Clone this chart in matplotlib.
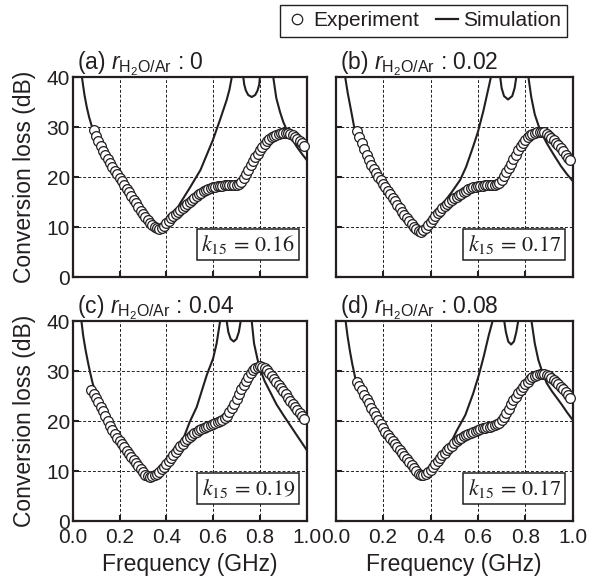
import numpy as np
import matplotlib
matplotlib.use("Agg")
import matplotlib.pyplot as plt
from matplotlib.lines import Line2D

plt.rcParams['font.family'] = ['Liberation Sans', 'DejaVu Sans']
plt.rcParams['mathtext.fontset'] = 'custom'
plt.rcParams['mathtext.rm'] = 'Liberation Sans'
plt.rcParams['mathtext.it'] = 'Liberation Sans:italic'

ink = '#231f20'

# measured conversion loss (dB), 0.01 GHz steps
freq_abd = np.round(np.arange(0.09, 0.995, 0.01), 2)
freq_c = np.round(np.arange(0.08, 0.995, 0.01), 2)

exp_a = [29.5, 28.3, 27.2, 26.2, 25.3, 24.4, 23.6, 22.8, 22.0, 21.3,
         20.6, 19.9, 19.2, 18.4, 17.7, 17.0, 16.2, 15.5, 14.8, 14.0,
         13.3, 12.6, 12.0, 11.4, 10.9, 10.4, 10.0, 9.8, 9.7, 9.9,
         10.3, 10.8, 11.3, 11.8, 12.3, 12.7, 13.1, 13.5, 13.9, 14.3,
         14.7, 15.1, 15.5, 15.9, 16.3, 16.6, 16.9, 17.2, 17.5, 17.7,
         17.9, 18.0, 18.1, 18.2, 18.3, 18.3, 18.4, 18.4, 18.4, 18.4,
         18.5, 18.5, 18.7, 19.1, 19.8, 20.6, 21.5, 22.4, 23.2, 24.0,
         24.7, 25.4, 26.1, 26.7, 27.2, 27.6, 28.0, 28.3, 28.5, 28.7,
         28.8, 28.9, 28.9, 28.8, 28.6, 28.4, 28.1, 27.7, 27.3, 26.8,
         26.3]

exp_b = [29.3, 28.0, 26.8, 25.6, 24.5, 23.4, 22.4, 21.6, 20.8, 20.1,
         19.4, 18.7, 18.0, 17.3, 16.6, 15.9, 15.2, 14.5, 13.8, 13.1,
         12.5, 11.9, 11.3, 10.7, 10.1, 9.6, 9.2, 9.1, 9.4, 9.9,
         10.5, 11.1, 11.7, 12.3, 12.8, 13.3, 13.8, 14.2, 14.6, 15.0,
         15.4, 15.8, 16.1, 16.4, 16.7, 17.0, 17.3, 17.6, 17.8, 18.0,
         18.1, 18.2, 18.3, 18.3, 18.4, 18.4, 18.4, 18.5, 18.5, 18.6,
         18.9, 19.4, 20.2, 21.0, 21.8, 22.7, 23.6, 24.5, 25.4, 26.2,
         26.9, 27.5, 28.0, 28.4, 28.7, 28.9, 29.1, 29.1, 29.1, 29.0,
         28.7, 28.3, 27.9, 27.4, 26.9, 26.4, 25.8, 25.2, 24.5, 23.9,
         23.4]

exp_c = [26.3, 25.5, 24.6, 23.8, 22.9, 22.0, 21.0, 20.0, 19.1, 18.3,
         17.5, 16.7, 16.0, 15.4, 14.8, 14.1, 13.5, 12.9, 12.3, 11.7,
         11.0, 10.4, 9.8, 9.3, 9.0, 8.9, 9.0, 9.2, 9.5, 9.9,
         10.4, 10.9, 11.5, 12.1, 12.7, 13.3, 13.9, 14.5, 15.0, 15.5,
         16.0, 16.4, 16.9, 17.3, 17.6, 17.9, 18.2, 18.4, 18.6, 18.8,
         19.0, 19.2, 19.4, 19.6, 19.8, 20.0, 20.3, 20.6, 21.1, 21.8,
         22.6, 23.5, 24.5, 25.5, 26.4, 27.3, 28.1, 28.9, 29.6, 30.2,
         30.6, 30.9, 31.0, 30.9, 30.6, 30.2, 29.7, 29.1, 28.5, 27.9,
         27.3, 26.7, 26.1, 25.4, 24.7, 24.1, 23.5, 22.9, 22.3, 21.7,
         21.1, 20.5]

exp_d = [27.9, 27.0, 26.2, 25.3, 24.4, 23.6, 22.7, 21.8, 21.0, 20.2,
         19.4, 18.7, 17.9, 17.3, 16.7, 16.1, 15.5, 14.9, 14.3, 13.7,
         13.1, 12.5, 11.9, 11.3, 10.6, 10.0, 9.5, 9.2, 9.2, 9.4,
         9.8, 10.2, 10.8, 11.4, 12.0, 12.6, 13.2, 13.7, 14.2, 14.7,
         15.1, 15.6, 16.0, 16.4, 16.7, 17.0, 17.3, 17.5, 17.7, 17.9,
         18.1, 18.3, 18.4, 18.6, 18.7, 18.8, 18.9, 19.0, 19.2, 19.4,
         19.7, 20.2, 20.8, 21.6, 22.5, 23.4, 24.2, 24.9, 25.6, 26.2,
         26.8, 27.4, 27.9, 28.4, 28.8, 29.1, 29.3, 29.4, 29.5, 29.4,
         29.2, 29.0, 28.6, 28.2, 27.8, 27.4, 26.9, 26.4, 25.8, 25.2,
         24.7]

# simulated curves (values above 40 run off the top of the axes)
sim_a_f = [0.038, 0.04, 0.05, 0.06, 0.07, 0.08, 0.09, 0.10, 0.12, 0.15, 0.20, 0.25,
           0.30, 0.34, 0.37, 0.40, 0.43, 0.46, 0.50, 0.546, 0.60, 0.63, 0.658, 0.67,
           0.68, 0.69, 0.70, 0.72, 0.727, 0.729, 0.733, 0.74, 0.75, 0.765, 0.78, 0.79,
           0.797, 0.80, 0.805, 0.82, 0.84, 0.85, 0.857, 0.87, 0.886, 0.90, 0.915, 0.93,
           0.957, 0.98, 1.0]
sim_a = [40.5, 39.8, 36.5, 34.0, 32.0, 30.4, 29.2, 28.0, 25.8, 23.2, 19.3, 15.6,
         12.3, 10.3, 9.8, 10.6, 12.3, 14.8, 17.8, 21.4, 27.5, 31.5, 35.4, 37.5,
         40.0, 45.0, 80.0, 80.0, 43.0, 40.0, 38.5, 37.3, 36.4, 36.0, 36.4, 37.3,
         38.5, 40.0, 43.0, 80.0, 80.0, 44.0, 40.0, 35.8, 33.0, 31.0, 29.4, 28.2,
         26.1, 24.6, 23.4]

sim_b_f = [0.039, 0.05, 0.06, 0.07, 0.081, 0.095, 0.12, 0.15, 0.20, 0.25, 0.30, 0.33,
           0.355, 0.38, 0.41, 0.45, 0.49, 0.525, 0.55, 0.58, 0.60, 0.623, 0.64, 0.655,
           0.665, 0.675, 0.685, 0.692, 0.694, 0.70, 0.71, 0.727, 0.745, 0.755, 0.762,
           0.767, 0.775, 0.80, 0.808, 0.813, 0.825, 0.84, 0.862, 0.89, 0.918, 0.95,
           0.975, 1.0]
sim_b = [40.3, 37.0, 34.5, 32.0, 29.2, 27.5, 24.8, 22.2, 18.5, 14.9, 11.8, 10.1,
         9.2, 9.6, 11.3, 14.5, 17.0, 19.4, 22.0, 26.1, 29.0, 33.2, 36.8, 40.0,
         45.0, 80.0, 80.0, 43.0, 40.0, 37.8, 36.2, 35.5, 36.2, 37.8, 40.0,
         44.0, 80.0, 80.0, 44.0, 40.0, 36.0, 32.5, 29.4, 26.8, 24.6, 22.2,
         20.6, 19.2]

sim_c_f = [0.036, 0.045, 0.055, 0.065, 0.075, 0.085, 0.10, 0.13, 0.16, 0.20, 0.25, 0.29,
           0.33, 0.36, 0.40, 0.44, 0.473, 0.50, 0.53, 0.573, 0.60, 0.615, 0.63, 0.64,
           0.65, 0.652, 0.656, 0.658, 0.665, 0.675, 0.688, 0.70, 0.71, 0.718, 0.723,
           0.735, 0.755, 0.762, 0.765, 0.775, 0.79, 0.80, 0.82, 0.843, 0.87, 0.90,
           0.93, 0.957, 0.98, 1.0]
sim_c = [40.5, 37.0, 34.2, 31.8, 29.6, 27.6, 25.2, 21.5, 18.5, 15.5, 12.5, 10.2,
         8.9, 9.3, 11.6, 14.2, 16.5, 19.8, 22.8, 29.2, 32.5, 35.5, 40.0, 46.0,
         80.0, 80.0, 43.0, 40.0, 37.8, 36.4, 35.9, 36.4, 37.8, 40.0, 44.0,
         80.0, 80.0, 44.0, 40.0, 35.5, 32.3, 30.5, 28.0, 25.9, 23.4, 21.2,
         19.1, 17.2, 15.6, 14.2]

sim_d_f = [0.041, 0.05, 0.06, 0.07, 0.083, 0.10, 0.13, 0.17, 0.21, 0.27, 0.32, 0.357,
           0.39, 0.43, 0.477, 0.51, 0.547, 0.58, 0.604, 0.625, 0.646, 0.662, 0.67,
           0.68, 0.70, 0.708, 0.711, 0.718, 0.728, 0.74, 0.752, 0.762, 0.77, 0.775,
           0.785, 0.815, 0.822, 0.826, 0.84, 0.855, 0.871, 0.89, 0.913, 0.935, 0.955,
           0.975, 1.0]
sim_d = [40.3, 37.0, 34.0, 31.4, 28.5, 26.0, 23.2, 20.2, 17.3, 13.6, 10.8, 9.3,
         9.8, 12.3, 14.8, 18.0, 21.2, 25.5, 29.2, 33.0, 37.2, 40.0, 44.0,
         80.0, 80.0, 44.0, 40.0, 37.8, 35.9, 35.3, 35.9, 37.8, 40.0, 44.0,
         80.0, 80.0, 44.0, 40.0, 35.5, 32.2, 29.9, 27.6, 25.9, 24.5, 23.2,
         21.8, 20.2]

panels = [
    ('(a)', '0', '0.16', freq_abd, exp_a, sim_a_f, sim_a),
    ('(b)', '0.02', '0.17', freq_abd, exp_b, sim_b_f, sim_b),
    ('(c)', '0.04', '0.19', freq_c, exp_c, sim_c_f, sim_c),
    ('(d)', '0.08', '0.17', freq_abd, exp_d, sim_d_f, sim_d),
]

positions = [
    [0.1226, 0.5273, 0.3946, 0.3413],
    [0.5661, 0.5273, 0.3997, 0.3413],
    [0.1226, 0.1109, 0.3946, 0.3413],
    [0.5661, 0.1109, 0.3997, 0.3413],
]

fig = plt.figure(figsize=(5.93, 5.86), dpi=100)

for i, (tag, ratio, k15, fx, fy, sx, sy) in enumerate(panels):
    ax = fig.add_axes(positions[i])
    ax.plot(sx, sy, color=ink, lw=1.5, zorder=2)
    ax.plot(fx, fy, ls='none', marker='o', ms=7, mfc='white', mec=ink,
            mew=0.9, zorder=3, clip_on=False)

    ax.set_xlim(0, 1.0)
    ax.set_ylim(0, 40)
    ax.set_xticks([0, 0.2, 0.4, 0.6, 0.8, 1.0])
    ax.set_yticks([0, 10, 20, 30, 40])
    ax.set_axisbelow(True)
    ax.grid(True, ls=(0, (3, 2)), lw=0.7, color=ink)
    for s in ax.spines.values():
        s.set_linewidth(1.6)
        s.set_color(ink)
    ax.tick_params(direction='in', length=4.5, width=1.5, colors=ink,
                   labelsize=15, labelcolor=ink)
    ax.tick_params(axis='y', pad=2)
    ax.tick_params(axis='x', pad=5)

    if i < 2:
        ax.set_xticklabels([])
    else:
        ax.set_xticklabels(['0.0', '0.2', '0.4', '0.6', '0.8', '1.0'])
        ax.set_xlabel('Frequency (GHz)', fontsize=16.5, color=ink)
        ax.xaxis.set_label_coords(0.5, -0.16)
    if i % 2 == 1:
        ax.set_yticklabels([])
    else:
        ax.set_ylabel('Conversion loss (dB)', fontsize=16.5, color=ink)
        ax.yaxis.set_label_coords(-0.155, 0.5)

    ax.text(0.018, 1.04, tag + r' $r_{\mathrm{H_2O/Ar}}$ : ' + ratio,
            transform=ax.transAxes, fontsize=16.5, color=ink, va='baseline',
            ha='left')
    ax.text(0.95, 0.105, r'$k_{15}\,=\,' + k15 + '$', transform=ax.transAxes,
            math_fontfamily='stix', fontsize=16,
            color=ink, ha='right', va='bottom', zorder=5,
            bbox=dict(boxstyle='square,pad=0.2', fc='white', ec=ink, lw=1.1))

handles = [Line2D([], [], ls='none', marker='o', ms=7.5, mfc='white', mec=ink, mew=0.9),
           Line2D([], [], color=ink, lw=1.6)]
leg = fig.legend(handles, ['Experiment', 'Simulation'], loc='upper right',
                 bbox_to_anchor=(567 / 593, 1 - 5 / 586), borderaxespad=0,
                 ncol=2, frameon=True, fancybox=False, edgecolor=ink,
                 framealpha=1, fontsize=15, handlelength=1.05,
                 handletextpad=0.25, columnspacing=0.8, borderpad=0.3)
leg.get_frame().set_linewidth(1.0)
for t in leg.get_texts():
    t.set_color(ink)

fig.savefig('out.png', dpi=100)
